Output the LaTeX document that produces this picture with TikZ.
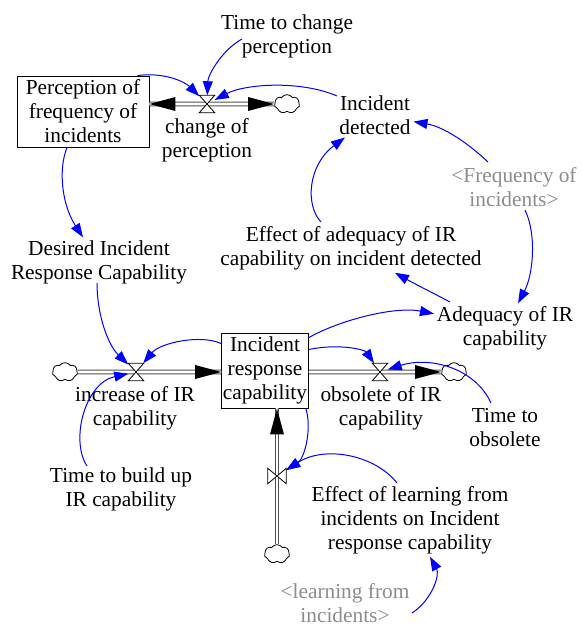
\documentclass[tikz,border=0pt]{standalone}
\usepackage{fontspec}
\setmainfont{Liberation Serif}
\usetikzlibrary{calc,shapes.symbols,arrows.meta}
\definecolor{shadowgray}{RGB}{140,140,140}
\definecolor{pipegray}{RGB}{80,80,80}
\newcommand\myTipL[1]{\fill[black] (#1) -- ++(26,-7) -- ++(0,14) -- cycle;}
\newcommand\myTipR[1]{\fill[black] (#1) -- ++(-26,-7) -- ++(0,14) -- cycle;}
\newcommand\myTipU[1]{\fill[black] (#1) -- ++(-7,26) -- ++(14,0) -- cycle;}
\newcommand\myHourglass[1]{\filldraw[fill=white,draw=black,line width=0.6pt] (#1.north west) -- (#1.north east) -- (#1.south west) -- (#1.south east) -- cycle;}
\newcommand\myBowtie[1]{\filldraw[fill=white,draw=black,line width=0.6pt] (#1.north west) -- (#1.south west) -- (#1.north east) -- (#1.south east) -- cycle;}
\begin{document}
\begin{tikzpicture}[x=0.75pt,y=-0.75pt,
  font=\fontsize{16}{18}\selectfont,
  lbl/.style={align=center, inner sep=2pt},
  shadowlbl/.style={lbl, text=shadowgray},
  stock/.style={draw, line width=0.7pt, align=center, inner sep=1pt},
  valve/.style={inner sep=0pt, minimum width=11.25pt, minimum height=12.75pt},
  vvalve/.style={inner sep=0pt, minimum width=13.5pt, minimum height=11.25pt},
  cloudn/.style={cloud, draw, cloud puffs=7, cloud puff arc=110, aspect=1.3, inner sep=0pt, minimum width=19pt, minimum height=14pt, line width=0.6pt, fill=white},
  pipe/.style={draw=pipegray, line width=0.7pt, double=white, double distance=2.2pt},
  conn/.style={draw=blue, line width=0.75pt, -{Triangle[length=10.5pt,width=7.5pt]}}
]
\useasboundingbox (0,0) rectangle (581,625);
% stocks
\node[stock, minimum width=99pt, minimum height=53.25pt] (ppf) at (83,111.5) {Perception of\\frequency of\\incidents};
\node[stock, minimum width=64.5pt, minimum height=56.25pt] (irc) at (265,370.5) {Incident\\response\\capability};
% valves
\node[valve] (v1) at (207,104) {};
\node[valve] (v2) at (136,372) {};
\node[valve] (v3) at (380,372) {};
\node[vvalve] (v4) at (277,476) {};
% clouds
\node[cloudn] (c1) at (287,104) {};
\node[cloudn] (c2) at (65,372) {};
\node[cloudn] (c3) at (454,372) {};
\node[cloudn] (c4) at (277,554) {};
% pipe ends
\coordinate (p1) at (ppf.east |- v1);
\coordinate (p2) at (irc.west |- v2);
\coordinate (p3) at (irc.east |- v3);
\coordinate (p4) at (irc.south -| v4);
% pipes
\draw[pipe] (p1) -- (c1.west);
\draw[pipe] (c2.east) -- (p2);
\draw[pipe] (p3) -- (c3.west);
\draw[pipe] (c4.north) -- (p4);
\myTipL{p1}
\myTipR{c1.west}
\myTipR{p2}
\myTipR{c3.west}
\myTipU{p4}
\myHourglass{v1}
\myHourglass{v2}
\myHourglass{v3}
\myBowtie{v4}
% labels
\node[lbl] (tcp) at (287,36) {Time to change\\perception};
\node[lbl] (ccp) at (207,140) {change of\\perception};
\node[lbl] (id) at (375,115) {Incident\\detected};
\node[shadowlbl] (foi) at (514,187) {<Frequency of\\incidents>};
\node[lbl] (eaid) at (351,248) {Effect of adequacy of IR\\capability on incident detected};
\node[lbl] (aic) at (505,328) {Adequacy of IR\\capability};
\node[lbl] (dirc) at (99,262) {Desired Incident\\Response Capability};
\node[lbl] (icr) at (135,408) {increase of IR\\capability};
\node[lbl] (oic) at (381,408) {obsolete of IR\\capability};
\node[lbl] (tto) at (505,428) {Time to\\obsolete};
\node[lbl] (tbu) at (121,489) {Time to build up\\IR capability};
\node[lbl] (elf) at (410,520) {Effect of learning from\\incidents on Incident\\response capability};
\node[shadowlbl] (lfi) at (345,603) {<learning from\\incidents>};
% connectors
\draw[conn] ($(tcp)+(-45,3)$) .. controls (222,50) and (208,75) .. (v1);
\draw[conn] ($(ppf.north east)+(-12,0)$) .. controls (165,72) and (185,82) .. (v1);
\draw[conn] ($(id)+(-38,-19)$) .. controls (300,80) and (245,84) .. (v1);
\draw[conn] ($(eaid)+(-30,-26)$) .. controls (305,205) and (308,165) .. (id);
\draw[conn] ($(foi)+(-26,-25)$) .. controls (470,145) and (445,127) .. (id);
\draw[conn] ($(foi)+(11,23)$) .. controls (537,235) and (533,275) .. (aic);
\draw[conn] ($(aic)+(-55,-26)$) .. controls (435,294) and (415,284) .. (eaid);
\draw[conn] ($(irc.north east)+(0,5)$) .. controls (340,320) and (395,306) .. (aic);
\draw[conn] ($(ppf.south)+(-16,0)$) .. controls (58,170) and (62,205) .. (dirc);
\draw[conn] ($(dirc)+(-2,21)$) .. controls (97,315) and (108,345) .. (v2);
\draw[conn] ($(irc.west)+(0,-27)$) .. controls (200,334) and (160,343) .. (v2);
\draw[conn] ($(tbu)+(-34,-23)$) .. controls (70,440) and (85,383) .. (v2);
\draw[conn] ($(irc.east)+(0,-21)$) .. controls (340,343) and (365,350) .. (v3);
\draw[conn] ($(tto)+(-14,-25)$) .. controls (475,368) and (430,356) .. (v3);
\draw[conn] ($(irc.south east)+(-3,0)$) .. controls (312,428) and (305,458) .. (v4);
\draw[conn] ($(elf)+(-13,-37)$) .. controls (375,455) and (325,445) .. (v4);
\draw[conn] ($(lfi)+(67,10)$) .. controls (432,600) and (440,575) .. (elf);
\end{tikzpicture}
\end{document}
